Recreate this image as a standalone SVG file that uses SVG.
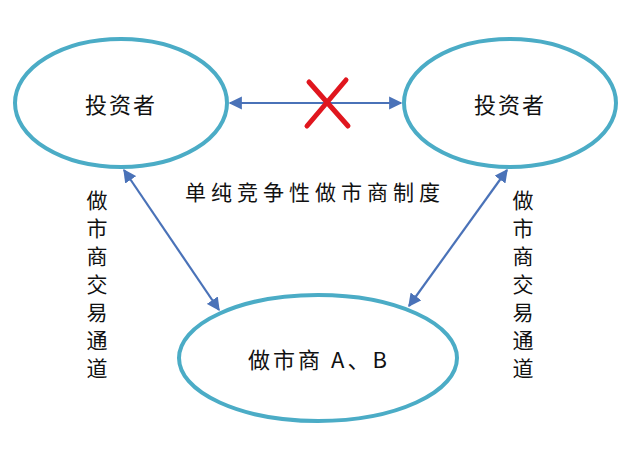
<svg xmlns="http://www.w3.org/2000/svg" width="640" height="449" viewBox="0 0 640 449">
<style>
.node{fill:#fff;stroke:#4bacc6;stroke-width:4}
.t{font-family:"Noto Sans CJK SC",sans-serif;fill:#111;text-anchor:middle;dominant-baseline:central}
.conn{stroke:#4a72b8;stroke-width:2.2;fill:none}
</style>
<defs>
<marker id="ah" viewBox="0 0 10 10" refX="9" refY="5" markerWidth="6" markerHeight="6" orient="auto-start-reverse" markerUnits="strokeWidth">
<path d="M0,0 L10,5 L0,10 z" fill="#4a72b8"/>
</marker>
</defs>
<rect width="640" height="449" fill="#fff"/>
<g id="investor-left">
<ellipse class="node" cx="121" cy="103" rx="106" ry="64"/>
<text class="t" x="121" y="103" font-size="22" letter-spacing="2">投资者</text>
</g>
<g id="investor-right">
<ellipse class="node" cx="510" cy="103" rx="106" ry="64"/>
<text class="t" x="510" y="103" font-size="22" letter-spacing="2">投资者</text>
</g>
<g id="market-maker">
<ellipse class="node" cx="318" cy="358" rx="139" ry="63"/>
<text class="t" x="319" y="358" font-size="22" letter-spacing="3">做市商 A、B</text>
</g>
<g id="connectors">
<line class="conn" x1="230" y1="103" x2="401" y2="103" marker-start="url(#ah)" marker-end="url(#ah)"/>
<line class="conn" x1="124" y1="170" x2="219" y2="310" marker-start="url(#ah)" marker-end="url(#ah)"/>
<line class="conn" x1="507" y1="170" x2="409" y2="306" marker-start="url(#ah)" marker-end="url(#ah)"/>
</g>
<g id="cross">
<path d="M309,82 L348,126 M346,80 L307,126" stroke="#e0161e" stroke-width="5" fill="none" stroke-linecap="round"/>
</g>
<g id="labels">
<text class="t" x="315" y="191" font-size="21" letter-spacing="5">单纯竞争性做市商制度</text>
<text class="t" x="97" y="199" font-size="21">做</text>
<text class="t" x="97" y="227" font-size="21">市</text>
<text class="t" x="97" y="255" font-size="21">商</text>
<text class="t" x="97" y="283" font-size="21">交</text>
<text class="t" x="97" y="311" font-size="21">易</text>
<text class="t" x="97" y="339" font-size="21">通</text>
<text class="t" x="97" y="367" font-size="21">道</text>
<text class="t" x="523" y="199" font-size="21">做</text>
<text class="t" x="523" y="227" font-size="21">市</text>
<text class="t" x="523" y="255" font-size="21">商</text>
<text class="t" x="523" y="283" font-size="21">交</text>
<text class="t" x="523" y="311" font-size="21">易</text>
<text class="t" x="523" y="339" font-size="21">通</text>
<text class="t" x="523" y="367" font-size="21">道</text>
</g>
</svg>
